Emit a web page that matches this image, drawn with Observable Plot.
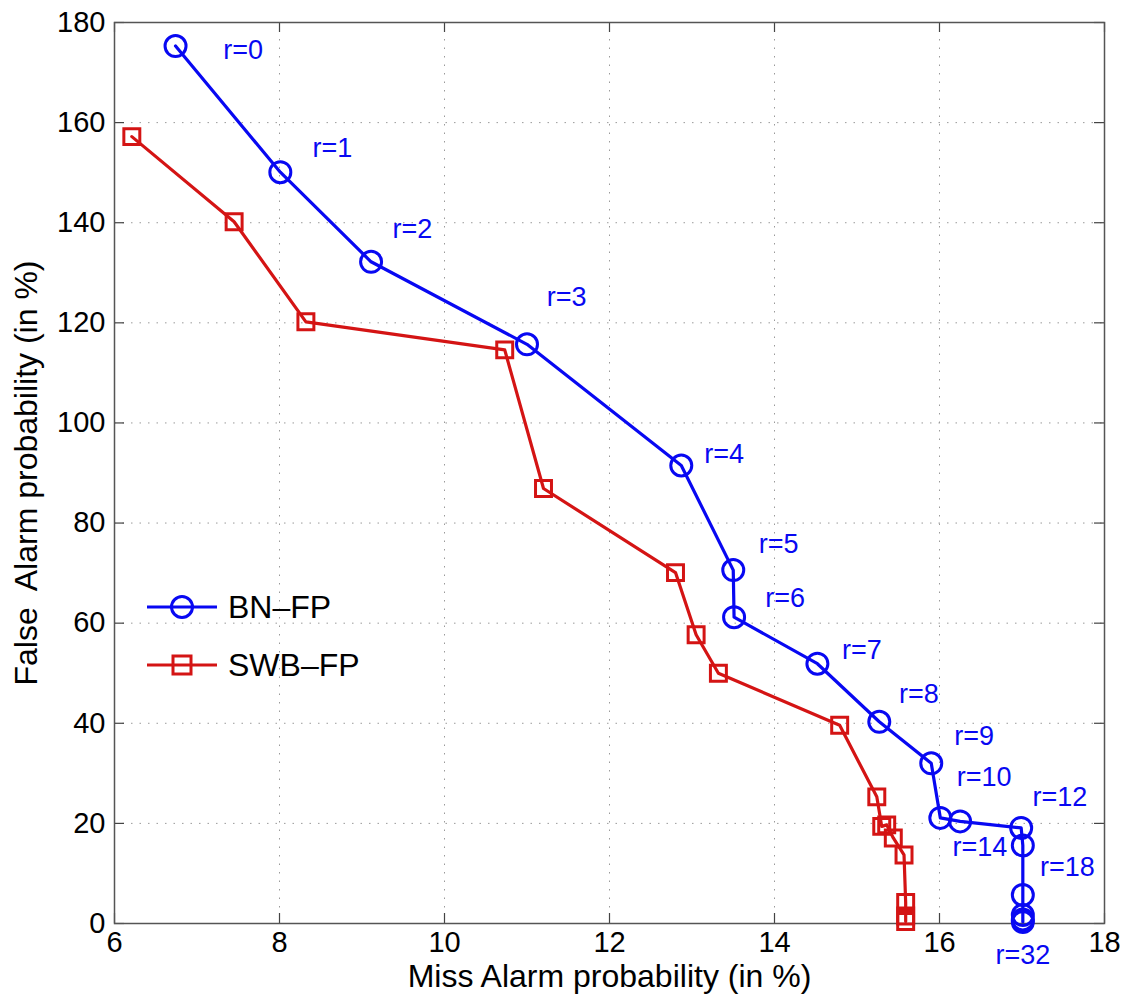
<!DOCTYPE html>
<html><head><meta charset="utf-8">
<script src="https://cdn.jsdelivr.net/npm/d3@7"></script>
<script src="https://cdn.jsdelivr.net/npm/@observablehq/plot@0.6"></script>
<style>
body{margin:0;background:#fff}
#wrap{position:relative;width:1125px;height:999px;font-family:"Liberation Sans",Arial,Helvetica,sans-serif}
#legend{position:absolute;left:140px;top:578px}
.lg{display:flex;align-items:center;height:58px;font-size:32px;color:#000}
.lg svg{margin-right:8px}
</style>
</head><body><div id="wrap"><div id="legend"></div></div>
<script>
// BN-FP (blue circles)
const bnMiss  = [6.74, 8.01, 9.11, 11.0, 12.87, 13.5, 13.51, 14.52, 15.27, 15.90, 16.01, 16.25, 16.99, 17.01, 17.01, 17.01, 17.01, 17.01];
const bnFalse = [175.3, 150.1, 132.2, 115.7, 91.5, 70.6, 61.2, 51.9, 40.3, 32.0, 21.1, 20.4, 19.1, 15.6, 5.7, 1.7, 0.8, 0.3];
// SWB-FP (red squares)
const swbMiss  = [6.21, 7.45, 8.32, 10.73, 11.20, 12.80, 13.05, 13.32, 14.79, 15.24, 15.30, 15.36, 15.44, 15.57, 15.59, 15.59, 15.59];
const swbFalse = [157.2, 140.2, 120.2, 114.6, 86.9, 70.1, 57.7, 50.0, 39.6, 25.3, 19.4, 19.7, 17.1, 13.7, 4.2, 1.5, 0.4];
// r annotations
const rLabels    = ["r=0","r=1","r=2","r=3","r=4","r=5","r=6","r=7","r=8","r=9","r=10","r=12","r=14","r=18","r=32"];
const rLabelMiss = [7.56, 8.64, 9.61, 11.48, 13.39, 14.05, 14.13, 15.06, 15.75, 16.42, 16.54, 17.46, 16.49, 17.55, 17.01];
const rLabelFalse= [174.4, 154.8, 138.6, 125.0, 93.8, 75.7, 65.0, 54.5, 45.7, 37.4, 29.2, 25.2, 15.2, 11.2, -6.3];
const xTicks = [6, 8, 10, 12, 14, 16, 18];
const yTicks = [0, 20, 40, 60, 80, 100, 120, 140, 160, 180];
const seriesNames = ["BN\u2013FP", "SWB\u2013FP"];

const BLUE = "#0808f2", RED = "#d41414";
const bn = bnMiss.map((x, i) => ({x, y: bnFalse[i]}));
const swb = swbMiss.map((x, i) => ({x, y: swbFalse[i]}));
const labels = rLabels.map((t, i) => ({t, x: rLabelMiss[i], y: rLabelFalse[i]}));
const FONT = '"Liberation Sans", Arial, Helvetica, sans-serif';

const W = 1125, H = 999, ML = 114, MR = 21, MT = 22, MB = 76;
const innerW = W - ML - MR, innerH = H - MT - MB, TL = 10;

const chart = Plot.plot({
  width: W, height: H,
  marginLeft: ML, marginRight: MR, marginTop: MT, marginBottom: MB,
  style: {fontFamily: FONT, background: "#fff", overflow: "visible"},
  x: {domain: [6, 18], ticks: xTicks},
  y: {domain: [0, 180], ticks: yTicks},
  marks: [
    Plot.gridX(xTicks.slice(1, -1), {stroke: "#9a9a9a", strokeOpacity: 1, strokeDasharray: "1.5,7"}),
    Plot.gridY(yTicks.slice(1, -1), {stroke: "#9a9a9a", strokeOpacity: 1, strokeDasharray: "1.5,7"}),
    Plot.axisX(xTicks, {tickSize: 0, tickPadding: 8, fontSize: 29, label: null, fill: "#000"}),
    Plot.axisY(yTicks, {tickSize: 0, tickPadding: 9, fontSize: 29, label: null, fill: "#000"}),
    Plot.tickX(xTicks, {x: d => d, insetTop: innerH - TL, stroke: "#444", strokeWidth: 1.2}),
    Plot.tickX(xTicks, {x: d => d, insetBottom: innerH - TL, stroke: "#444", strokeWidth: 1.2}),
    Plot.tickY(yTicks, {y: d => d, insetRight: innerW - TL, stroke: "#444", strokeWidth: 1.2}),
    Plot.tickY(yTicks, {y: d => d, insetLeft: innerW - TL, stroke: "#444", strokeWidth: 1.2}),
    Plot.frame({stroke: "#555", strokeWidth: 1.5}),
    Plot.line(swb, {x: "x", y: "y", stroke: RED, strokeWidth: 3.2}),
    Plot.dot(swb, {x: "x", y: "y", symbol: "square", r: 9, stroke: RED, strokeWidth: 3, fill: "none"}),
    Plot.line(bn, {x: "x", y: "y", stroke: BLUE, strokeWidth: 3.2}),
    Plot.dot(bn, {x: "x", y: "y", symbol: "circle", r: 10.5, stroke: BLUE, strokeWidth: 3, fill: "none"}),
    Plot.text(labels, {x: "x", y: "y", text: "t", fill: BLUE, fontSize: 27, textAnchor: "middle", lineAnchor: "middle", clip: false}),
    Plot.text(["Miss Alarm probability (in %)"], {frameAnchor: "bottom", dy: 53, fontSize: 32, fill: "#000", textAnchor: "middle", lineAnchor: "middle"}),
    Plot.text(["False  Alarm probability (in %)"], {frameAnchor: "left", dx: -88, rotate: -90, fontSize: 32, fill: "#000", textAnchor: "middle", lineAnchor: "middle"})
  ]
});
const wrap = document.getElementById("wrap");
wrap.insertBefore(chart, wrap.firstChild);

// Legend
const legend = document.getElementById("legend");
const sw = [
  {name: seriesNames[0], color: BLUE, shape: "circle"},
  {name: seriesNames[1], color: RED, shape: "square"}
];
for (const s of sw) {
  const row = document.createElement("div");
  row.className = "lg";
  const mark = s.shape === "circle"
    ? `<circle cx="42" cy="20" r="10.5" fill="none" stroke="${s.color}" stroke-width="3"/>`
    : `<rect x="33" y="11" width="18" height="18" fill="none" stroke="${s.color}" stroke-width="3"/>`;
  row.innerHTML = `<svg width="80" height="40"><line x1="7" y1="20" x2="77" y2="20" stroke="${s.color}" stroke-width="3.2"/>${mark}</svg><span>${s.name}</span>`;
  legend.appendChild(row);
}
</script>
</body></html>
